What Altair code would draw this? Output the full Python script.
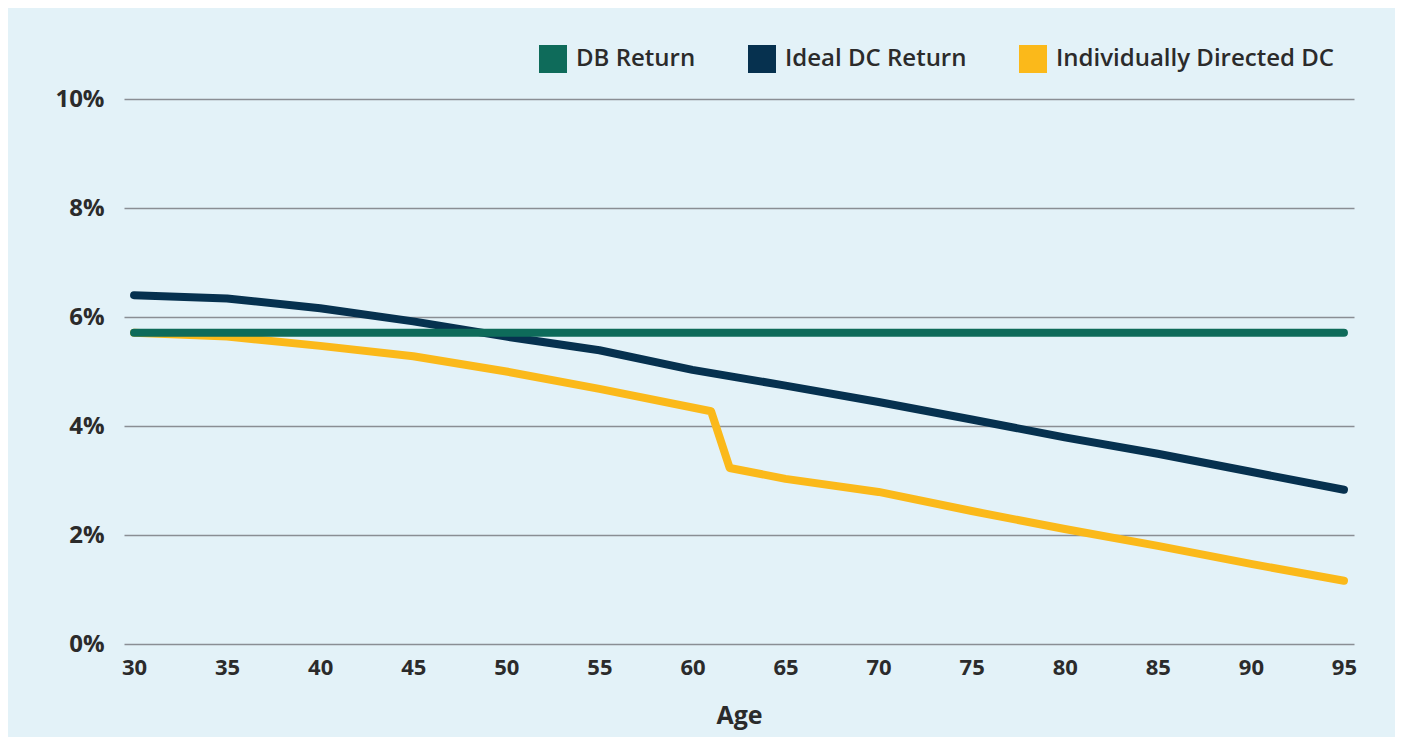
import altair as alt
import pandas as pd

ages_db = [30, 35, 40, 45, 50, 55, 60, 65, 70, 75, 80, 85, 90, 95]
db_return = [5.71] * 14

ages_ideal = [30, 35, 40, 45, 50, 55, 60, 65, 70, 75, 80, 85, 90, 95]
ideal_dc = [6.40, 6.34, 6.16, 5.92, 5.64, 5.39, 5.03, 4.74, 4.44, 4.12, 3.79, 3.49, 3.16, 2.83]

ages_indiv = [30, 35, 40, 45, 50, 55, 61, 62, 65, 70, 75, 80, 85, 90, 95]
indiv_dc = [5.71, 5.64, 5.47, 5.28, 5.00, 4.68, 4.27, 3.23, 3.03, 2.79, 2.44, 2.11, 1.80, 1.47, 1.16]

series_names = ["DB Return", "Ideal DC Return", "Individually Directed DC"]
series_colors = ["#0e6b5a", "#06314f", "#fbb91a"]

rows = []
for a, v in zip(ages_db, db_return):
    rows.append({"Age": a, "Return": v, "Series": series_names[0]})
for a, v in zip(ages_ideal, ideal_dc):
    rows.append({"Age": a, "Return": v, "Series": series_names[1]})
for a, v in zip(ages_indiv, indiv_dc):
    rows.append({"Age": a, "Return": v, "Series": series_names[2]})
df = pd.DataFrame(rows)

FONT = "Open Sans"
TXT = "#2b2b2b"

x_enc = alt.X(
    "Age:Q",
    scale=alt.Scale(domain=[29.46, 95.54], nice=False, zero=False),
    axis=alt.Axis(
        values=list(range(30, 100, 5)),
        title="Age",
        grid=False,
        ticks=False,
        domain=False,
        labelFontSize=22,
        labelFont=FONT,
        labelFontWeight="bold",
        labelColor=TXT,
        labelPadding=13,
        titleFontSize=25,
        titleFont=FONT,
        titleFontWeight="bold",
        titleColor=TXT,
        titlePadding=25,
    ),
)
y_enc = alt.Y(
    "Return:Q",
    scale=alt.Scale(domain=[0, 10], nice=False),
    axis=alt.Axis(
        values=[0, 2, 4, 6, 8, 10],
        labelExpr="datum.value + '%'",
        title=None,
        ticks=False,
        domain=False,
        grid=True,
        gridColor="#8a8e94",
        gridWidth=1.5,
        labelFontSize=24,
        labelFont=FONT,
        labelFontWeight="bold",
        labelColor=TXT,
        labelPadding=20,
    ),
)

stroke_enc = alt.Stroke(
    "Series:N",
    scale=alt.Scale(domain=series_names, range=series_colors),
    legend=None,
)
fill_enc = alt.Fill(
    "Series:N",
    scale=alt.Scale(domain=series_names, range=series_colors),
    legend=alt.Legend(
        title=None,
        orient="none",
        direction="horizontal",
        legendX=415,
        legendY=-54,
        symbolType="square",
        symbolSize=784,
        symbolStrokeWidth=0,
        symbolOpacity=1,
        labelFontSize=24,
        labelFont=FONT,
        labelFontWeight=600,
        labelColor=TXT,
        labelOffset=9,
        labelLimit=0,
        columnPadding=52,
    ),
)

base = alt.Chart(df).mark_line(strokeWidth=8, strokeCap="round", strokeJoin="round").encode(
    x=x_enc, y=y_enc, stroke=stroke_enc
)

legend_layer = alt.Chart(df).mark_point(shape="square", filled=True, opacity=0).encode(
    x=x_enc, y=y_enc, fill=fill_enc
)

layers = [
    legend_layer,
    base.transform_filter(alt.datum.Series == series_names[2]),
    base.transform_filter(alt.datum.Series == series_names[1]),
    base.transform_filter(alt.datum.Series == series_names[0]),
]

chart = alt.layer(*layers).properties(
    width=1230,
    height=545,
    autosize=alt.AutoSizeParams(type="none"),
    padding={"left": 116, "top": 91, "right": 41, "bottom": 93},
    background="#e3f2f8",
).configure_view(stroke=None)

chart.save("out.html", embed_options={"renderer": "svg", "actions": False})
